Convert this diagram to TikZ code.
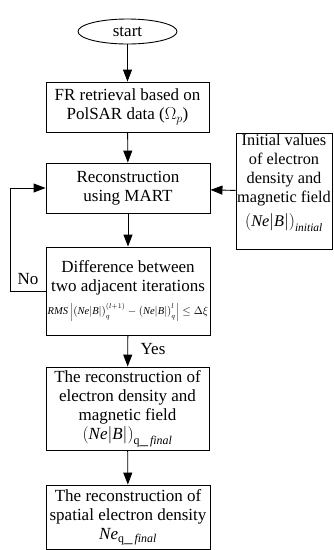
\documentclass[tikz,border=0pt]{standalone}
\usepackage{fontspec}
\setmainfont{Liberation Serif}
\usetikzlibrary{shapes.geometric,arrows.meta}
\begin{document}
\begin{tikzpicture}[x=1pt,y=-1pt,
  every node/.style={font=\fontsize{17}{19}\selectfont},
  box/.style={draw, line width=0.9pt, align=center, inner sep=0pt},
  arr/.style={-{Triangle[length=12pt,width=9pt]}, line width=0.9pt},
  lbl/.style={inner sep=0pt}]
\useasboundingbox (0,0) rectangle (333,550);
\node[box, ellipse, minimum width=99pt, minimum height=25pt] (start) at (127.5,31.5) {start};
\node[box, minimum width=163pt, minimum height=50pt] (fr) at (127.5,107) {FR retrieval based on\\PolSAR data ($\Omega_{p}$)};
\node[box, minimum width=164pt, minimum height=50pt] (rec) at (128,188) {Reconstruction\\using MART};
\node[box, minimum width=96pt, minimum height=113pt, font=\fontsize{16.3}{19}\selectfont] (init) at (284,191.5) {Initial values\\of electron\\density and\\magnetic field\\[5pt]$\bigl(\mathit{Ne}\bigl|\mathit{B}\bigr|\bigr)_{\mathit{initial}}$\\[4pt]};
\node[box, minimum width=164pt, minimum height=88pt] (diff) at (128,291) {Difference between\\two adjacent iterations\\[4pt]{\fontsize{10.5}{12}\selectfont$\mathit{RMS}\left|\bigl(\mathit{Ne}\bigl|\mathit{B}\bigr|\bigr)_{q}^{(l+1)}-\bigl(\mathit{Ne}\bigl|\mathit{B}\bigr|\bigr)_{q}^{l}\right|\le\Delta\xi$}};
\node[box, minimum width=163pt, minimum height=83pt] (recf) at (127.5,408.5) {The reconstruction of\\electron density and\\magnetic field\\$\bigl(\mathit{Ne}\bigl|\mathit{B}\bigr|\bigr)_{\mathrm{q}\_\,\mathit{final}}$};
\node[box, minimum width=164pt, minimum height=64pt] (sp) at (128,517) {The reconstruction of\\spatial electron density\\$\mathit{Ne}_{\mathrm{q}\_\,\mathit{final}}$};
\coordinate (c1) at (10,291);
\node[lbl] (no) at (28,279) {No};
\node[lbl] (yes) at (153,349) {Yes};
\draw[arr] (start) -- (fr);
\draw[arr] (fr) -- (rec);
\draw[arr] (rec) -- (diff);
\draw[arr] (init) -- (rec);
\draw[arr] (diff.west) -- (c1) |- (rec.west);
\draw[arr] (diff) -- (recf);
\draw[arr] (recf) -- (sp);
\end{tikzpicture}
\end{document}
